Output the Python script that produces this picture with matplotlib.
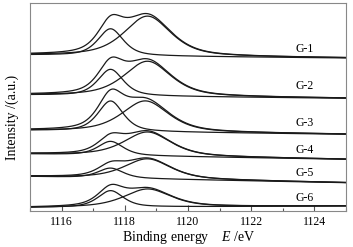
# XPS-style stacked spectra: fitted components for samples G-1 ... G-6.

import numpy as np
import matplotlib
matplotlib.use('Agg')
import matplotlib.pyplot as plt
from matplotlib.ticker import MultipleLocator

plt.rcParams['font.family'] = ['Liberation Serif', 'DejaVu Serif']
plt.rcParams['mathtext.fontset'] = 'custom'
plt.rcParams['mathtext.it'] = 'Liberation Serif:italic'
plt.rcParams['mathtext.rm'] = 'Liberation Serif'

# Fit parameters (one entry per sample, top to bottom).
samples = ['G-1', 'G-2', 'G-3', 'G-4', 'G-5', 'G-6']
bg_left = [156, 116, 80.5, 57, 34.5, 3.5]      # background at 1115 eV
bg_right = [153, 112.7, 76.7, 51.7, 28.3, 5]   # background at 1125 eV
center1 = [1117.55, 1117.55, 1117.55, 1117.55, 1117.55, 1117.55]
center2 = [1118.72, 1118.72, 1118.65, 1118.72, 1118.72, 1118.72]
height1 = [27, 26.5, 30.5, 14, 10, 16.5]
height2 = [40, 35, 31, 24, 20, 18]
fwhm1 = [0.95, 0.95, 0.95, 0.95, 0.95, 0.95]
fwhm2 = [1.75, 1.75, 1.75, 1.75, 1.75, 1.75]
label_y = [162, 125, 88, 61, 38, 13]

energy = np.linspace(1115, 1125, 600)


def pseudo_voigt(x, c, h, w, eta=0.6):
    d = (x - c) / w
    lor = 1.0 / (1.0 + 4.0 * d ** 2)
    gau = np.exp(-4.0 * np.log(2) * d ** 2)
    return h * (eta * lor + (1 - eta) * gau)


fig = plt.figure(figsize=(3.53, 2.47), dpi=100)
ax = fig.add_axes([30 / 353, 1 - 211 / 247, 316 / 353, 208 / 247])

for i, name in enumerate(samples):
    bg = bg_left[i] + (bg_right[i] - bg_left[i]) * (energy - 1115) / 10
    p1 = pseudo_voigt(energy, center1[i], height1[i], fwhm1[i])
    p2 = pseudo_voigt(energy, center2[i], height2[i], fwhm2[i])
    ax.plot(energy, bg + p1, color='#1a1a1a', lw=0.9)
    ax.plot(energy, bg + p2, color='#1a1a1a', lw=0.9)
    ax.plot(energy, bg + p1 + p2, color='#1a1a1a', lw=0.9)
    ax.text(1123.7, label_y[i], name, ha='center', va='center', fontsize=8.5)

ax.set_xlim(1115, 1125)
ax.set_ylim(0, 208)
ax.xaxis.set_major_locator(MultipleLocator(2))
ax.xaxis.set_minor_locator(MultipleLocator(1))
ax.set_yticks([])
ax.tick_params(axis='x', which='both', direction='in', top=False,
               labelsize=8.5, pad=3.5, color='#555555')
ax.tick_params(axis='x', which='major', length=4, width=0.8)
ax.tick_params(axis='x', which='minor', length=2.5, width=0.8)
for s in ax.spines.values():
    s.set_color('#888888')
    s.set_linewidth(0.8)

fig.text(189 / 353, 1 - 237 / 247, r'Binding energy    $\mathit{E}$ /eV',
         ha='center', va='center', fontsize=10)
fig.text(12 / 353, 1 - 117 / 247, 'Intensity /(a.u.)', rotation=90,
         ha='center', va='center', fontsize=10)

fig.savefig('out.png', dpi=100)
